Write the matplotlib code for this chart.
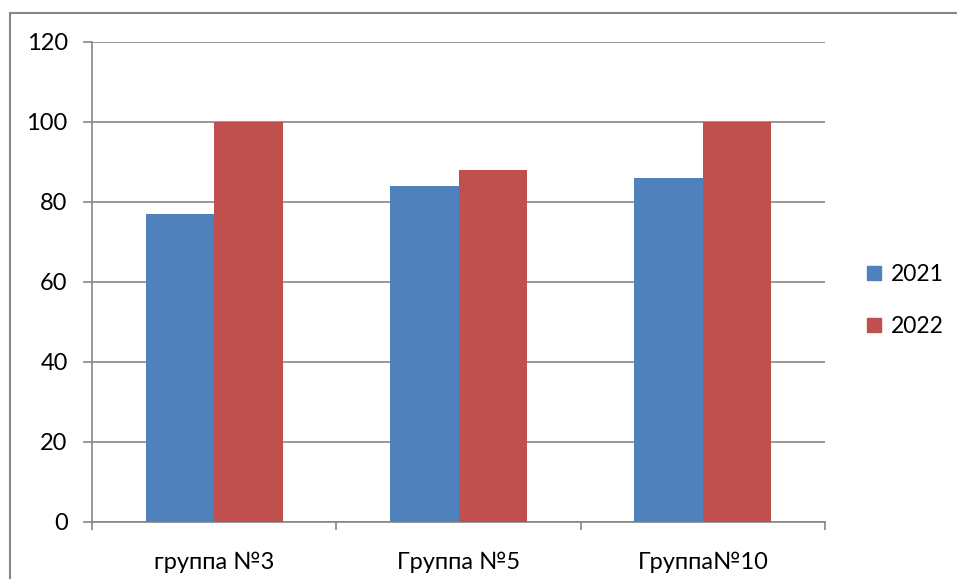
import matplotlib
matplotlib.use("Agg")
import matplotlib.pyplot as plt
from matplotlib.lines import Line2D
from matplotlib.patches import Rectangle
import numpy as np

categories = ["группа №3", "Группа №5", "Группа№10"]
series_names = ["2021", "2022"]
values_2021 = [77, 84, 86]
values_2022 = [100, 88, 100]
colors = ["#4F81BD", "#C0504D"]
yticks = [0, 20, 40, 60, 80, 100, 120]

plt.rcParams['font.family'] = ['Lato', 'DejaVu Sans']

W, H = 957, 579
fig = plt.figure(figsize=(W / 100, H / 100), dpi=100)

# outer chart frame
fig.patches.append(Rectangle((9.5 / W, -0.01), 1.02, (H - 12.5) / H + 0.01,
                             transform=fig.transFigure, fill=False,
                             edgecolor="#868686", linewidth=1.5))

ax = fig.add_axes([92 / W, (H - 522) / H, (825 - 92) / W, (522 - 42) / H])
x = np.arange(len(categories))
bw = 0.28
ax.bar(x - bw / 2, values_2021, bw, color=colors[0], label=series_names[0], zorder=3)
ax.bar(x + bw / 2, values_2022, bw, color=colors[1], label=series_names[1], zorder=3)

gc = "#868686"
ax.set_xlim(-0.5, len(categories) - 0.5)
ax.set_ylim(0, 120)
ax.set_yticks(yticks)
ax.yaxis.grid(True, color=gc, linewidth=1.2, zorder=0)
for s in ["top", "right"]:
    ax.spines[s].set_visible(False)
for s in ["left", "bottom"]:
    ax.spines[s].set_color(gc)
    ax.spines[s].set_linewidth(1.2)
ax.set_xticks(x)
ax.set_xticklabels(categories)
ax.set_xticks(np.arange(len(categories) + 1) - 0.5, minor=True)
ax.tick_params(axis="x", which="major", length=0, pad=21.5, labelsize=17)
ax.tick_params(axis="x", which="minor", length=6, color=gc, width=1.2)
ax.tick_params(axis="y", length=6.5, color=gc, width=1.2, pad=11, labelsize=17)

handles = [Line2D([], [], linestyle="none", marker="s", markersize=10.5,
                  markerfacecolor=c, markeredgecolor=c) for c in colors]
fig.legend(handles, series_names, loc="center left",
           bbox_to_anchor=(863 / W, 1 - 300.5 / H), frameon=False,
           borderpad=0, borderaxespad=0,
           fontsize=16.5, handlelength=1.0, handletextpad=0.2,
           labelspacing=1.35)

fig.savefig("out.png", dpi=100)
